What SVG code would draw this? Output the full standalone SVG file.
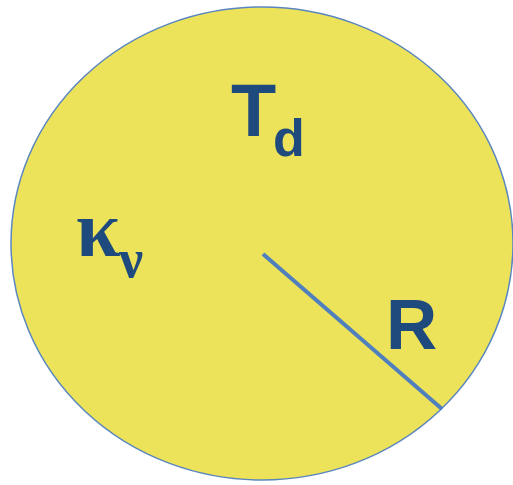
<svg xmlns="http://www.w3.org/2000/svg" width="513" height="485" viewBox="0 0 513 485">
<style>
.lbl{fill:#1f4a7e;font-family:"Liberation Sans",Arial,sans-serif;font-weight:bold}
.grk{fill:#1f4a7e;font-family:"Liberation Serif","Times New Roman",serif;font-weight:bold}
</style>
<rect width="513" height="485" fill="#ffffff"/>
<g id="sphere">
<ellipse cx="262" cy="243.5" rx="251" ry="236.5" fill="#ece35a" stroke="#5a86bf" stroke-width="1.5"/>
</g>
<g id="connectors">
<line x1="263" y1="254" x2="442" y2="409" stroke="#4f7fbd" stroke-width="4"/>
</g>
<g id="Td">
<text class="lbl" x="231" y="136" font-size="74">T</text>
<text class="lbl" x="273" y="156" font-size="52">d</text>
</g>
<g id="kappa">
<text class="grk" x="76" y="256" font-size="80">κ</text>
<text class="grk" x="119" y="277" font-size="54">ν</text>
</g>
<g id="R">
<text class="lbl" x="386" y="349" font-size="71">R</text>
</g>
</svg>
